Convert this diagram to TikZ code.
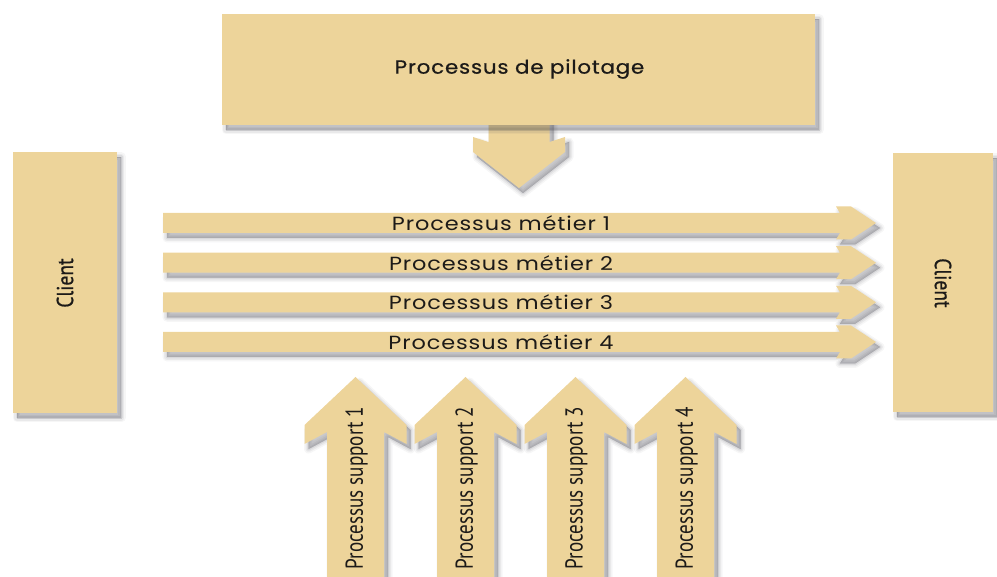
\documentclass[tikz,border=0pt]{standalone}
\usepackage{fontspec}
\setmainfont{PT Sans}
\newfontfamily\geofont[LetterSpace=4]{Poppins}
\newfontfamily\geoheavy[LetterSpace=4,FakeBold=0.6]{Poppins}
\newfontfamily\narrowfont{PT Sans}
\newfontfamily\narrowheavy[FakeBold=0.8]{PT Sans}

\definecolor{sand}{RGB}{237,212,154}
\definecolor{shadowc}{RGB}{70,70,80}
\definecolor{ink}{RGB}{28,26,24}

\tikzset{
  shadowlayer/.style 2 args={preaction={draw=shadowc, fill=shadowc,
      line width=#1, line join=round, opacity=#2,
      transform canvas={shift={(4pt,-5pt)}}}},
  softshadow/.style={shadowlayer={9pt}{0.05}, shadowlayer={6pt}{0.07},
      shadowlayer={3pt}{0.09}, shadowlayer={0.5pt}{0.12}},
  panel/.style={fill=sand, softshadow},
  pilottext/.style={text=ink, font=\geoheavy\fontsize{19}{22}\selectfont, inner sep=0pt},
  metiertext/.style={text=ink, font=\geofont\fontsize{19}{22}\selectfont, inner sep=0pt},
  supporttext/.style={text=ink, font=\narrowfont\fontsize{24.5}{27}\selectfont, inner sep=0pt},
  clienttext/.style={text=ink, font=\narrowheavy\fontsize{23}{25}\selectfont, inner sep=0pt},
}

\begin{document}
\begin{tikzpicture}[x=1pt, y=-1pt]
  \useasboundingbox (0,0) rectangle (997,577);
  \clip (0,0) rectangle (997,577);

  % steering process: arrow first, then its box on top
  \fill[panel] (488.5,110) -- (488.5,142) -- (473,137) -- (473,152) -- (519,188)
       -- (565,152) -- (565,137) -- (549.5,142) -- (549.5,110) -- cycle;
  \fill[panel] (222,14) rectangle (815,125);
  \node[pilottext] (pilot) at (519.5,69) {\scalebox{1.12}[1]{Processus de pilotage}};

  % client boxes
  \fill[panel] (13,152) rectangle (117,413);
  \node[clienttext, rotate=90] (clientL) at (65,283) {\scalebox{0.85}[1]{Client}};
  \fill[panel] (893,153) rectangle (993,412);
  \node[clienttext, rotate=-90] (clientR) at (943,283) {\scalebox{0.85}[1]{Client}};

  % business processes
  \foreach \n/\c in {1/223,2/262.7,3/302.3,4/342}{
    \fill[panel] (163,\c-10) -- (840,\c-10) -- (836,\c-16.5) -- (851,\c-16.5)
         -- (876,\c) -- (851,\c+16.5) -- (836,\c+16.5) -- (840,\c+10)
         -- (163,\c+10) -- cycle;
    \node[metiertext] (metier\n) at (501,\c) {\scalebox{1.18}[1]{Processus métier \n}};
  }

  % support processes
  \foreach \n/\x in {1/355.5,2/465.5,3/575.5,4/685.5}{
    \fill[panel] (\x-28.5,600) -- (\x-28.5,432) -- (\x-51,444) -- (\x-51,425)
         -- (\x,377) -- (\x+51,425) -- (\x+51,444) -- (\x+28.5,432)
         -- (\x+28.5,600) -- cycle;
    \node[supporttext, rotate=90] (support\n) at (\x+1,488)
         {\scalebox{0.78}[1]{Processus support \n}};
  }
\end{tikzpicture}
\end{document}
